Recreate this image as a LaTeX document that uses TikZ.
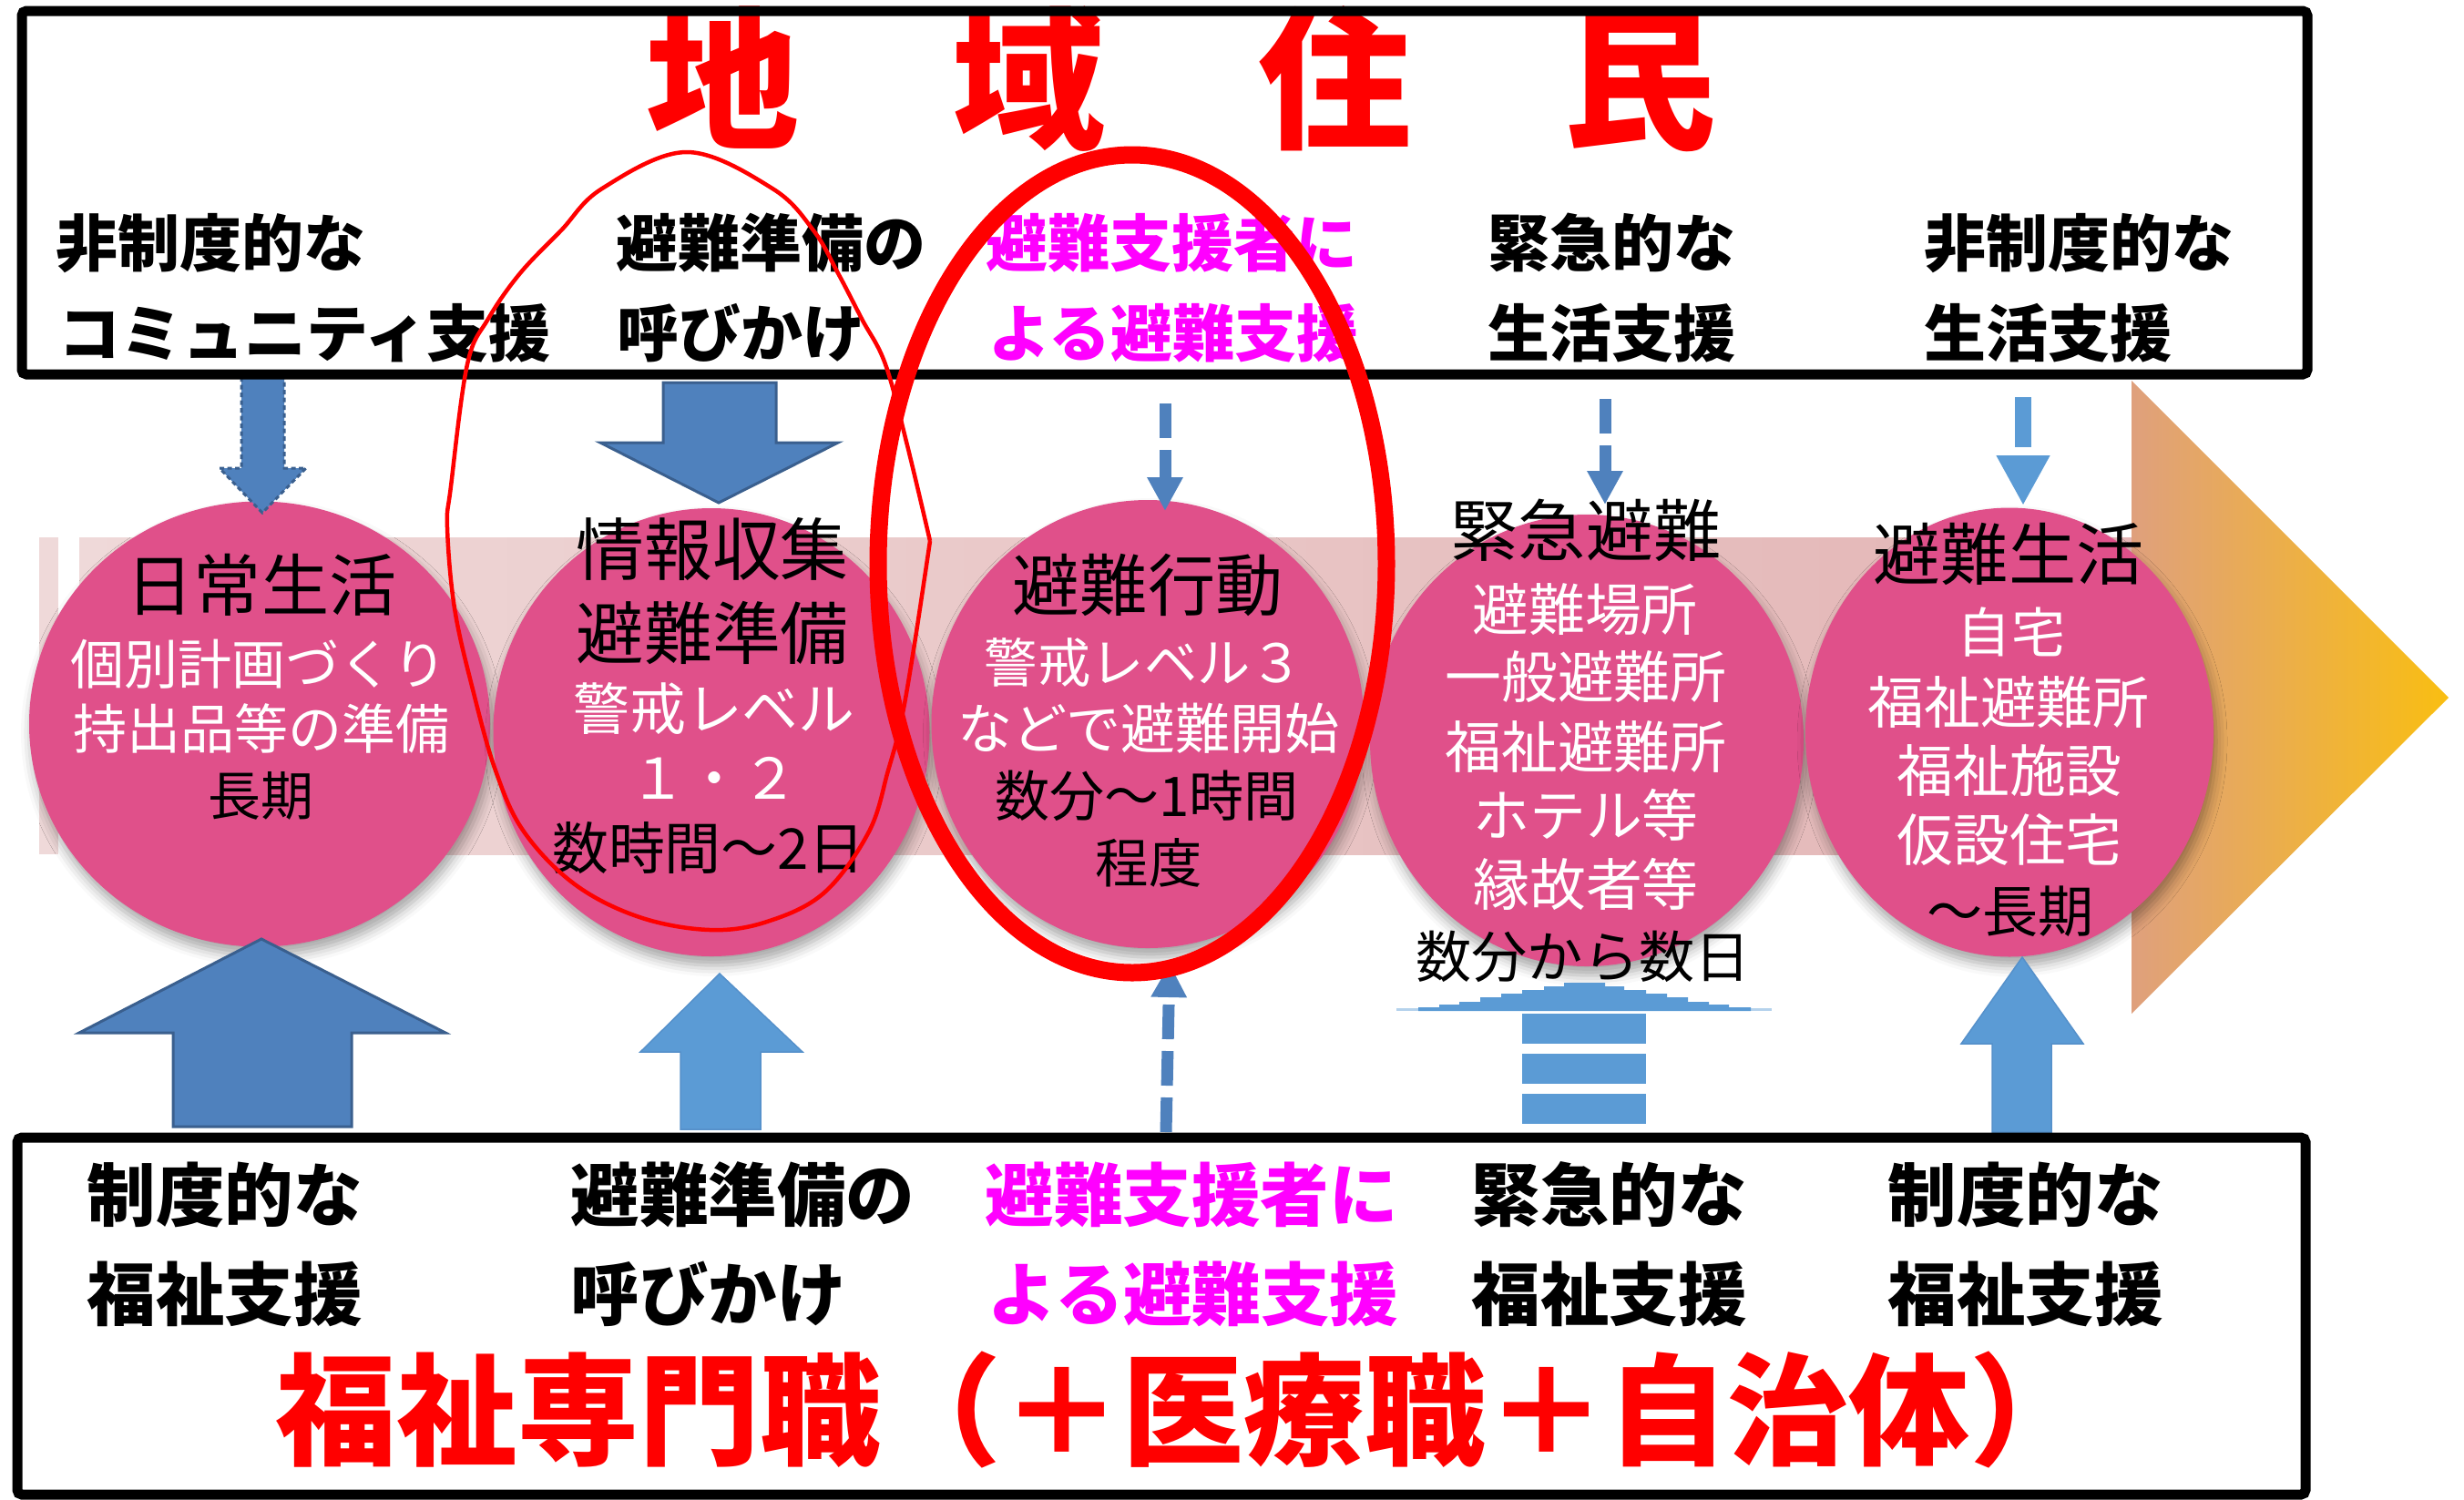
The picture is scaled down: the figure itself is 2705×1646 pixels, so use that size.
\documentclass[tikz,border=0pt]{standalone}
\usepackage{fontspec}
\newfontfamily\jp{Noto Sans CJK JP}
\newfontfamily\jpb{Noto Sans CJK JP Black}
\usetikzlibrary{shapes.geometric,arrows.meta,shadows.blur}
\definecolor{circfill}{HTML}{E0508A}
\definecolor{dblue}{HTML}{4F81BD}
\definecolor{dbord}{HTML}{3A5F8E}
\definecolor{lblue}{HTML}{5B9BD5}
\definecolor{lbord}{HTML}{5590CA}
\definecolor{bandL}{HTML}{EFD9D9}
\definecolor{bandR}{HTML}{E3B5B5}
\definecolor{headL}{HTML}{DFA07D}
\definecolor{headR}{HTML}{F9BE12}
\definecolor{mag}{HTML}{FF00FF}
\definecolor{tred}{HTML}{FF0000}
\tikzset{
  circnode/.style={ellipse, fill=circfill, inner sep=0pt, draw=none,
    blur shadow={shadow xshift=0.3mm, shadow yshift=-1mm, shadow blur radius=1.2mm, shadow opacity=35}},
  ctxt/.style={anchor=base, inner sep=0pt},
  fhead/.style={font=\jp\fontsize{21.1pt}{22pt}\selectfont, text=black},
  fsub/.style={font=\jp\fontsize{#1}{#1}\selectfont},
  toplab/.style={anchor=base west, inner sep=0pt, font=\jpb\fontsize{19.35pt}{20pt}\selectfont},
  botlab/.style={anchor=base west, inner sep=0pt, font=\jpb\fontsize{21.48pt}{22pt}\selectfont},
  frame/.style={draw=black, line width=1.1mm, rounded corners=0.5mm},
  blockdark/.style={fill=dblue, draw=dbord, line width=0.3mm, line join=miter},
  blocklight/.style={fill=lblue, draw=lbord, line width=0.15mm},
  dconn/.style={draw=dblue, line width=1.3mm, dash pattern=on 3.8mm off 1.3mm,
    -{Triangle[width=3.7mm,length=3.7mm]}},
}
\begin{document}
\begin{tikzpicture}[x=0.1mm,y=-0.1mm]
\useasboundingbox (0,0) rectangle (2705,1646);

% ---- big arrow band ----
\fill[bandL] (43,590) rectangle (64,938);
\shade[left color=bandL, right color=bandR] (87,590) rectangle (2341,938);
\shade[left color=headL, right color=headR] (2340,418) -- (2688,766) -- (2340,1113) -- cycle;

% ---- circles ----
\node[circnode, minimum width=50.6mm, minimum height=48.9mm] (k1) at (285,795) {};
\node[circnode, minimum width=47.9mm, minimum height=49.2mm] (k2) at (781,804) {};
\node[circnode, minimum width=47.5mm, minimum height=49.2mm] (k3) at (1260,795) {};
\node[circnode, minimum width=47.6mm, minimum height=49.6mm] (k4) at (1742,813) {};
\node[circnode, minimum width=44.8mm, minimum height=49.3mm] (k5) at (2206,804) {};

% ---- circle texts ----
\node[ctxt, fhead] (t1a) at (287,670) {日常生活};
\node[ctxt, fsub=16.8pt, text=white] (t1b) at (284,751) {個別計画づくり};
\node[ctxt, fsub=16.8pt, text=white] (t1c) at (287,822) {持出品等の準備};
\node[ctxt, fsub=16.5pt, text=black] (t1d) at (286,895) {長期};

\node[ctxt, fhead, font=\jp\fontsize{21.3pt}{22pt}\selectfont] (t2a) at (782,631) {情報収集};
\node[ctxt, fhead, font=\jp\fontsize{21.3pt}{22pt}\selectfont] (t2b) at (782,723) {避難準備};
\node[ctxt, fsub=17.6pt, text=white] (t2c) at (784,801) {警戒レベル};
\node[ctxt, fsub=17.6pt, text=white] (t2d) at (784,877) {１・２};
\node[ctxt, fsub=17.6pt, text=black] (t2e) at (778,954) {数時間～2日};

\node[ctxt, fhead] (t3a) at (1260,670) {避難行動};
\node[ctxt, fsub=16.6pt, text=white] (t3b) at (1256,749) {警戒レベル３};
\node[ctxt, fsub=17.1pt, text=white] (t3c) at (1261,822) {などで避難開始};
\node[ctxt, fsub=17.1pt, text=black] (t3d) at (1259,896) {数分～1時間};
\node[ctxt, fsub=16.6pt, text=black] (t3e) at (1261,969) {程度};

\node[ctxt, fhead] (t4a) at (1741,610) {緊急避難};
\node[ctxt, fsub=17.6pt, text=white] (t4b) at (1740,692) {避難場所};
\node[ctxt, fsub=17.6pt, text=white] (t4c) at (1741,766) {一般避難所};
\node[ctxt, fsub=17.6pt, text=white] (t4d) at (1741,843) {福祉避難所};
\node[ctxt, fsub=17.6pt, text=white] (t4e) at (1741,918) {ホテル等};
\node[ctxt, fsub=17.6pt, text=white] (t4f) at (1741,994) {縁故者等};
\node[ctxt, fsub=17.4pt, text=black] (t4g) at (1738,1073) {数分から数日};

\node[ctxt, fhead] (t5a) at (2205,636) {避難生活};
\node[ctxt, fsub=16.8pt, text=white] (t5b) at (2208,716) {自宅};
\node[ctxt, fsub=17.6pt, text=white] (t5c) at (2205,794) {福祉避難所};
\node[ctxt, fsub=17.6pt, text=white] (t5d) at (2206,869) {福祉施設};
\node[ctxt, fsub=17.6pt, text=white] (t5e) at (2206,945) {仮設住宅};
\node[ctxt, fsub=17.4pt, text=black] (t5f) at (2207,1023) {～長期};

% ---- arrows from the top box ----
\draw[blockdark, draw=dbord, dash pattern=on 0.5mm off 0.35mm]
  (265,414) -- (265,514) -- (241,514) -- (288,563) -- (336,514) -- (312,514) -- (312,414) -- cycle;
\draw[blockdark] (728,420) -- (728,486) -- (659,486) -- (789,552) -- (920,486) -- (852,486) -- (852,420) -- cycle;
\coordinate (a3s) at (1279,443);
\coordinate (a3e) at (1279,561);
\draw[dconn] (a3s) -- (a3e);
\coordinate (a4s) at (1762,438);
\coordinate (a4e) at (1762,554);
\draw[dconn] (a4s) -- (a4e);
\coordinate (a5s) at (2221,436);
\coordinate (a5e) at (2221,555);
\draw[draw=lblue, line width=1.8mm, dash pattern=on 5.5mm off 0.9mm,
  -{Triangle[width=5.5mm,length=5.5mm]}] (a5s) -- (a5e);

% ---- arrows from the bottom box ----
\draw[blockdark] (190,1237) -- (190,1134) -- (87,1134) -- (287,1031) -- (489,1134) -- (386,1134) -- (386,1237) -- cycle;
\draw[blocklight] (747,1240) -- (747,1155) -- (703,1155) -- (790,1069) -- (881,1155) -- (835,1155) -- (835,1240) -- cycle;
\coordinate (b3s) at (1280,1243);
\coordinate (b3e) at (1284,1058);
\draw[dconn] (b3s) -- (b3e);
\fill[lblue] (1671,1113) rectangle (1807,1146);
\fill[lblue] (1671,1157) rectangle (1807,1190);
\fill[lblue] (1671,1201) rectangle (1807,1234);
\fill[lblue!45] (1533,1110) -- (1533,1107) -- (1945,1107) -- (1945,1110) -- cycle;
\fill[lblue] (1557,1110) -- (1557,1106) -- (1580,1106) -- (1580,1103) -- (1602,1103)
  -- (1602,1100) -- (1625,1100) -- (1625,1095) -- (1648,1095) -- (1648,1091)
  -- (1671,1091) -- (1671,1087) -- (1695,1087) -- (1695,1083) -- (1717,1083)
  -- (1717,1079) -- (1762,1079) -- (1762,1083) -- (1783,1083) -- (1783,1087)
  -- (1807,1087) -- (1807,1091) -- (1830,1091) -- (1830,1095) -- (1853,1095)
  -- (1853,1100) -- (1876,1100) -- (1876,1103) -- (1898,1103) -- (1898,1106)
  -- (1922,1106) -- (1922,1110) -- cycle;
\draw[blocklight] (2187,1243) -- (2187,1146) -- (2153,1146) -- (2220,1051) -- (2287,1146) -- (2252,1146) -- (2252,1243) -- cycle;

% ---- top box ----
\node[anchor=base, inner sep=0pt, text=tred, font=\jpb\fontsize{47.8pt}{48pt}\selectfont] (title) at (1297,150) {地　域　住　民};
\node[toplab] (u1a) at (61,292) {非制度的な};
\node[toplab] (u1b) at (64,391) {コミュニティ支援};
\node[toplab] (u2a) at (676,292) {避難準備の};
\node[toplab] (u2b) at (677,391) {呼びかけ};
\node[toplab, text=mag] (u3a) at (1082,292) {避難支援者に};
\node[toplab, text=mag] (u3b) at (1085,391) {よる避難支援};
\node[toplab] (u4a) at (1633,292) {緊急的な};
\node[toplab] (u4b) at (1633,391) {生活支援};
\node[toplab] (u5a) at (2112,292) {非制度的な};
\node[toplab] (u5b) at (2112,391) {生活支援};
\draw[frame] (24,12) rectangle (2533,411);

% ---- bottom box ----
\node[botlab] (d1a) at (95,1340) {制度的な};
\node[botlab] (d1b) at (95,1449) {福祉支援};
\node[botlab] (d2a) at (626,1340) {避難準備の};
\node[botlab] (d2b) at (626,1449) {呼びかけ};
\node[botlab, text=mag] (d3a) at (1081,1340) {避難支援者に};
\node[botlab, text=mag] (d3b) at (1084,1449) {よる避難支援};
\node[botlab] (d4a) at (1615,1340) {緊急的な};
\node[botlab] (d4b) at (1615,1449) {福祉支援};
\node[botlab] (d5a) at (2072,1340) {制度的な};
\node[botlab] (d5b) at (2072,1449) {福祉支援};
\node[anchor=base west, inner sep=0pt, text=tred, font=\jpb\fontsize{37.8pt}{38pt}\selectfont] (big) at (302,1598) {福祉専門職（＋医療職＋自治体）};
\draw[frame] (19,1249) rectangle (2531,1641);

% ---- red ellipses ----
\draw[tred, line width=0.45mm, line join=miter] plot[smooth, tension=0.6] coordinates {
 (1021,594) (996,489) (972,400) (946,350) (920,300) (893,253) (848,207) (754,167)
 (661,207) (616,253) (571,300) (536,350) (513,400) (495,534) (491,579) (499,668)
 (519,757) (544,846) (575,913) (631,971) (702,1007) (779,1021) (842,1012) (905,980)
 (954,913) (975,846) (989,793) (1003,713) (1021,594)};
\draw[tred, line width=1.9mm] (1243,619) ellipse [x radius=27.9mm, y radius=44.9mm];
\end{tikzpicture}
\end{document}
